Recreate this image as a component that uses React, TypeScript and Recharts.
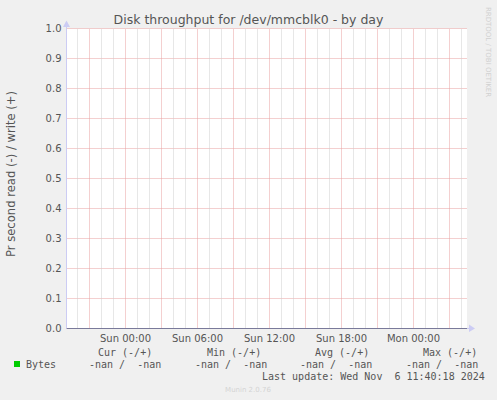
import { CartesianGrid, Line, LineChart, ReferenceLine, XAxis, YAxis } from 'recharts';

// hours relative to Sun 00:00
const sampleHours = [-4, 0, 4, 8, 12, 16, 20, 24, 28];
const readValues = [null, null, null, null, null, null, null, null, null];
const writeValues = [null, null, null, null, null, null, null, null, null];

const labelHours = [0, 6, 12, 18, 24];
const tickLabels = ['Sun 00:00', 'Sun 06:00', 'Sun 12:00', 'Sun 18:00', 'Mon 00:00'];
const majorHours = [-3, 0, 3, 6, 9, 12, 15, 18, 21, 24, 27];
const minorHours = [-4, -2, -1, 1, 2, 4, 5, 7, 8, 10, 11, 13, 14, 16, 17, 19, 20, 22, 23, 25, 26, 28];
const yTicks = [0, 0.1, 0.2, 0.3, 0.4, 0.5, 0.6, 0.7, 0.8, 0.9, 1.0];

const legendHeaders = ['Cur (-/+)', 'Min (-/+)', 'Avg (-/+)', 'Max (-/+)'];
const legendValues = ['-nan /  -nan', '-nan /  -nan', '-nan /  -nan', '-nan /  -nan'];
const headerX = [98, 207, 315, 423];
const valueX = [89, 195, 300, 406];

const W = 497;
const H = 400;
const TEXT = '#555555';
const FONT = '"DejaVu Sans", sans-serif';
const MONO = '"DejaVu Sans Mono", monospace';

const data = sampleHours.map((h, i) => ({
  h,
  read: readValues[i] == null ? null : -(readValues[i] as number),
  write: writeValues[i],
}));

export default function App() {
  return (
    <div style={{ position: 'absolute', left: 0, top: 0, width: W, height: H, background: '#f0f0f0' }}>
      <LineChart
        width={W}
        height={H}
        data={data}
        margin={{ top: 28.5, right: 30, bottom: 0, left: 0 }}
      >
        <CartesianGrid
          vertical={false}
          stroke="#e9a0a0"
          strokeDasharray="1 1"
          fill="#ffffff"
          fillOpacity={1}
        />
        {minorHours.map((h) => (
          <ReferenceLine key={'m' + h} x={h} stroke="#cfcfcf" strokeDasharray="1 1" ifOverflow="visible" />
        ))}
        {majorHours.map((h) => (
          <ReferenceLine key={'M' + h} x={h} stroke="#e9a0a0" strokeDasharray="1 1" ifOverflow="visible" />
        ))}
        <XAxis
          dataKey="h"
          type="number"
          domain={[-4.917, 28.458]}
          ticks={labelHours}
          tickFormatter={(v) => tickLabels[labelHours.indexOf(v)] ?? ''}
          height={71.5}
          tickSize={0}
          tickMargin={6}
          axisLine={{ stroke: '#7a7a9a' }}
          tick={{ fill: TEXT, fontSize: 10, fontFamily: FONT }}
          allowDataOverflow
        />
        <YAxis
          type="number"
          domain={[0, 1]}
          ticks={yTicks}
          tickFormatter={(v) => Number(v).toFixed(1)}
          width={66.5}
          tickSize={0}
          tickMargin={5}
          axisLine={{ stroke: '#ccccf4' }}
          tick={{ fill: TEXT, fontSize: 10, fontFamily: FONT }}
          interval={0}
          allowDataOverflow
        />
        <Line dataKey="read" stroke="#00cc00" dot={false} isAnimationActive={false} />
        <Line dataKey="write" stroke="#00cc00" dot={false} isAnimationActive={false} />
      </LineChart>

      <svg
        width={W}
        height={H}
        style={{ position: 'absolute', left: 0, top: 0, pointerEvents: 'none' }}
      >
        <line x1={66.5} y1={22} x2={66.5} y2={28.5} stroke="#ccccf4" />
        <polygon points="63,27 70,27 66.5,20.5" fill="#ccccf4" />
        <line x1={467} y1={328.5} x2={470} y2={328.5} stroke="#ccccf4" />
        <polygon points="469,324.5 469,332 475,328.5" fill="#ccccf4" />

        <text x={248.5} y={24} textAnchor="middle" fill={TEXT} fontSize={12.5} fontFamily={FONT}>
          Disk throughput for /dev/mmcblk0 - by day
        </text>
        <text
          x={15}
          y={174}
          textAnchor="middle"
          fill={TEXT}
          fontSize={11.6}
          fontFamily={FONT}
          transform="rotate(-90 15 174)"
        >
          Pr second read (-) / write (+)
        </text>
        <text
          x={486}
          y={52}
          textAnchor="middle"
          fill="#d0d0d0"
          fontSize={7}
          fontFamily={FONT}
          transform="rotate(90 486 52)"
        >
          RRDTOOL / TOBI OETIKER
        </text>

        <rect x={14} y={361} width={6} height={6} fill="#00cc00" />
        <text x={26} y={368} fill={TEXT} fontSize={10} fontFamily={MONO}>
          Bytes
        </text>
        {legendHeaders.map((t, i) => (
          <text key={t} x={headerX[i]} y={356} fill={TEXT} fontSize={10} fontFamily={MONO} style={{ whiteSpace: 'pre' }}>
            {t}
          </text>
        ))}
        {legendValues.map((t, i) => (
          <text key={i} x={valueX[i]} y={368} fill={TEXT} fontSize={10} fontFamily={MONO} style={{ whiteSpace: 'pre' }}>
            {t}
          </text>
        ))}
        <text x={262} y={380} fill={TEXT} fontSize={10} fontFamily={MONO} style={{ whiteSpace: 'pre' }}>
          Last update: Wed Nov  6 11:40:18 2024
        </text>
        <text x={248} y={392} textAnchor="middle" fill="#d4d4d4" fontSize={7} fontFamily={FONT}>
          Munin 2.0.76
        </text>
      </svg>
    </div>
  );
}
